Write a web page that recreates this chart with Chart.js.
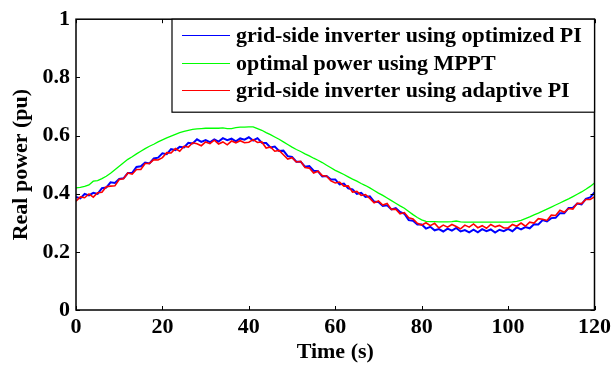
<!DOCTYPE html>
<html>
<head>
<meta charset="utf-8">
<script src="https://cdn.jsdelivr.net/npm/chart.js@4.4.1/dist/chart.umd.min.js"></script>
<style>
html,body{margin:0;padding:0;background:#fff;}
#wrap{width:615px;height:370px;position:relative;}
</style>
</head>
<body>
<div id="wrap"><canvas id="c" width="615" height="370"></canvas></div>
<script>
const timeSec = [0,1,2,3,4,5,6,7,8,9,10,11,12,13,14,15,16,17,18,19,20,21,22,23,24,25,26,27,28,29,30,31,32,33,34,35,36,37,38,39,40,41,42,43,44,45,46,47,48,49,50,51,52,53,54,55,56,57,58,59,60,61,62,63,64,65,66,67,68,69,70,71,72,73,74,75,76,77,78,79,80,81,82,83,84,85,86,87,88,89,90,91,92,93,94,95,96,97,98,99,100,101,102,103,104,105,106,107,108,109,110,111,112,113,114,115,116,117,118,119,120];

const optimizedPI = [.389,.384,.399,.394,.403,.399,.419,.421,.439,.437,.451,.453,.471,.472,.492,.494,.507,.504,.521,.524,
.539,.536,.553,.550,.561,.559,.575,.573,.587,.578,.584,.577,.587,.579,.591,.584,.589,.580,.590,.586,
.594,.583,.591,.575,.574,.559,.562,.547,.548,.529,.526,.510,.510,.493,.495,.479,.477,.459,.461,.449,
.449,.432,.435,.418,.415,.399,.403,.389,.391,.373,.371,.358,.360,.346,.350,.337,.331,.309,.307,.294,
.294,.280,.286,.274,.278,.270,.280,.273,.282,.270,.275,.267,.276,.267,.278,.271,.277,.266,.276,.271,
.279,.271,.284,.277,.285,.281,.295,.294,.309,.305,.316,.317,.333,.333,.351,.352,.366,.363,.382,.387,.404];

const mpptPower = [.420,.422,.425,.430,.443,.445,.452,.460,.470,.482,.494,.506,.518,.527,.537,.546,.555,.563,.570,.578,
.585,.592,.598,.604,.610,.614,.618,.621,.623,.624,.625,.625,.625,.625,.626,.624,.624,.627,.629,.629,
.630,.630,.624,.618,.610,.603,.595,.587,.578,.569,.560,.552,.545,.537,.530,.522,.515,.507,.498,.489,
.480,.473,.466,.458,.450,.443,.435,.428,.420,.411,.402,.394,.385,.376,.367,.358,.350,.339,.328,.318,
.310,.305,.304,.304,.303,.303,.303,.304,.306,.303,.302,.302,.302,.302,.302,.302,.302,.302,.302,.302,
.302,.303,.305,.308,.314,.320,.327,.333,.340,.347,.354,.361,.368,.375,.382,.390,.398,.406,.415,.425,.437];

const adaptivePI = [.374,.389,.386,.399,.388,.403,.405,.424,.426,.427,.449,.451,.471,.467,.483,.483,.504,.504,.517,.516,
.524,.541,.540,.555,.546,.563,.560,.575,.572,.565,.578,.572,.584,.571,.578,.568,.581,.575,.582,.575,
.577,.586,.576,.578,.557,.561,.546,.549,.534,.519,.524,.509,.511,.490,.488,.471,.477,.462,.460,.444,
.437,.440,.426,.427,.405,.408,.394,.397,.384,.369,.375,.361,.366,.346,.347,.331,.335,.317,.313,.298,
.292,.300,.290,.298,.282,.292,.285,.294,.287,.279,.292,.285,.296,.283,.290,.281,.294,.286,.291,.282,
.282,.294,.288,.299,.288,.302,.299,.314,.312,.308,.326,.325,.343,.336,.349,.347,.367,.366,.380,.380,.389];

const seriesNames = ['grid-side inverter using optimized PI','optimal power using MPPT','grid-side inverter using adaptive PI'];
const seriesColors = ['#0000ff','#00ff00','#ff0000'];
const xTicks = [0,20,40,60,80,100,120];
const yTicks = [0,0.2,0.4,0.6,0.8,1];
const yTickLabels = ['0','0.2','0.4','0.6','0.8','1'];

const FONT = '"Liberation Serif", "Times New Roman", serif';

function pts(arr){ return arr.map((v,i)=>({x:timeSec[i], y:v})); }

const boxPlugin = {
  id:'boxAndLegend',
  afterDatasetsDraw(chart){
    const ctx = chart.ctx, a = chart.chartArea;
    const xs = chart.scales.x, ys = chart.scales.y;
    ctx.save();
    ctx.strokeStyle = '#000';
    ctx.lineWidth = 1;
    ctx.beginPath();
    xTicks.forEach(t=>{
      const px = Math.round(xs.getPixelForValue(t))+0.5;
      ctx.moveTo(px, a.bottom); ctx.lineTo(px, a.bottom-4);
      ctx.moveTo(px, a.top); ctx.lineTo(px, a.top+4);
    });
    yTicks.forEach(t=>{
      const py = Math.round(ys.getPixelForValue(t))+0.5;
      ctx.moveTo(a.left, py); ctx.lineTo(a.left+4, py);
      ctx.moveTo(a.right, py); ctx.lineTo(a.right-4, py);
    });
    ctx.stroke();
    ctx.lineWidth = 1.5;
    ctx.strokeRect(a.left, a.top, a.right-a.left, a.bottom-a.top);
    const lx = 172, ly = a.top, lw = a.right-172, lh = 93;
    ctx.fillStyle = '#fff';
    ctx.fillRect(lx, ly, lw, lh);
    ctx.lineWidth = 1.2;
    ctx.strokeRect(lx, ly, lw, lh);
    const rows = [35, 63, 90];
    ctx.font = 'bold 22px ' + FONT;
    ctx.textBaseline = 'middle';
    ctx.textAlign = 'left';
    seriesNames.forEach((n,i)=>{
      ctx.strokeStyle = seriesColors[i];
      ctx.lineWidth = 1;
      ctx.beginPath();
      ctx.moveTo(182, rows[i]+0.5); ctx.lineTo(230, rows[i]+0.5);
      ctx.stroke();
      ctx.fillStyle = '#000';
      ctx.fillText(n, 236, rows[i]+1);
    });
    ctx.restore();
  }
};

new Chart(document.getElementById('c'), {
  type:'line',
  data:{
    datasets:[
      {label:seriesNames[0], data:pts(optimizedPI), borderColor:seriesColors[0], borderWidth:2, order:2},
      {label:seriesNames[1], data:pts(mpptPower), borderColor:seriesColors[1], borderWidth:1.3, order:1},
      {label:seriesNames[2], data:pts(adaptivePI), borderColor:seriesColors[2], borderWidth:1.6, order:0}
    ]
  },
  options:{
    responsive:false,
    animation:false,
    events:[],
    layout:{padding:{left:0,right:19,top:16,bottom:0}},
    elements:{point:{radius:0}, line:{tension:0}},
    plugins:{legend:{display:false}, tooltip:{enabled:false}},
    scales:{
      x:{
        type:'linear', min:0, max:120,
        afterBuildTicks(s){ s.ticks = xTicks.map(v=>({value:v})); },
        afterFit(s){ s.height = 60; },
        grid:{display:false, drawTicks:false},
        border:{display:false},
        ticks:{color:'#000', padding:4, maxRotation:0, autoSkip:false, font:{family:FONT, size:22, weight:'bold'}},
        title:{display:true, text:'Time (s)', color:'#000', padding:{top:0,bottom:4}, font:{family:FONT, size:22, weight:'bold'}}
      },
      y:{
        min:0, max:1,
        afterBuildTicks(s){ s.ticks = yTicks.map(v=>({value:v})); },
        afterFit(s){ s.width = 76; },
        grid:{display:false, drawTicks:false},
        border:{display:false},
        ticks:{color:'#000', padding:6, autoSkip:false, font:{family:FONT, size:22, weight:'bold'},
          callback(v, i){ return yTickLabels[i]; }},
        title:{display:true, text:'Real power (pu)', color:'#000', padding:{top:8,bottom:0}, font:{family:FONT, size:22, weight:'bold'}}
      }
    }
  },
  plugins:[boxPlugin]
});
</script>
</body>
</html>
